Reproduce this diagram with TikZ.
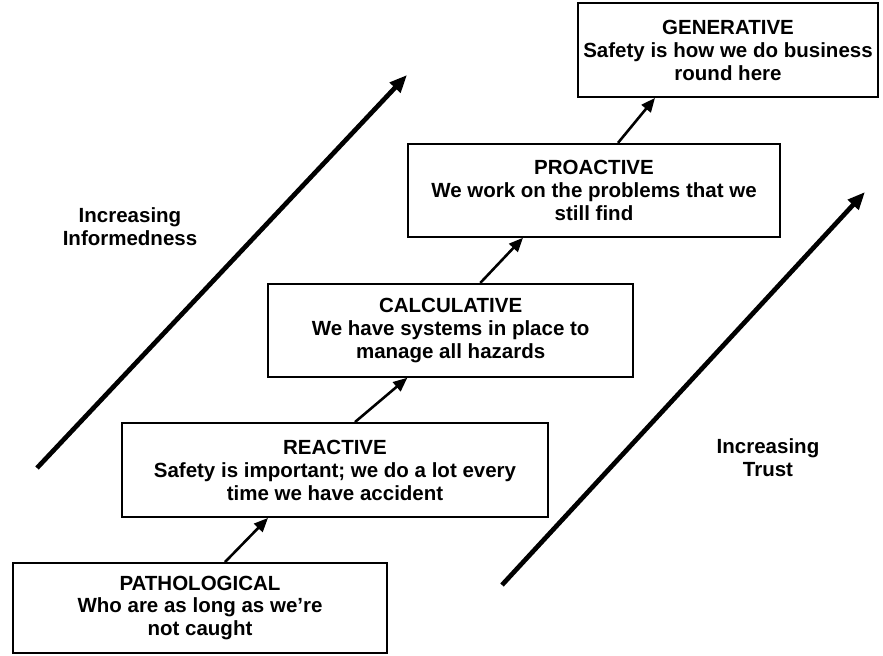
\documentclass[tikz,border=0pt]{standalone}
\usepackage{fontspec}
\setmainfont{Liberation Sans}
\usetikzlibrary{arrows.meta,positioning,calc}
\tikzset{
  stagebox/.style={draw=black, line width=1.6pt, fill=white, align=center,
    inner sep=2pt, font=\bfseries\fontsize{17.5}{19.6}\selectfont},
  stepedge/.style={-{Triangle[length=12pt, width=10pt]}, line width=2.2pt},
  trendarrow/.style={-{Triangle[length=15pt, width=12pt]}, line width=4pt},
  trendlabel/.style={align=center, font=\bfseries\fontsize{17.5}{19.6}\selectfont},
}

\begin{document}
\begin{tikzpicture}

  \useasboundingbox (0,0) rectangle (26.49,19.65);

  % the five stages
  \node[stagebox, minimum width=11.22cm, minimum height=2.7cm] (path) at (6.0,1.41)
    {PATHOLOGICAL\\Who are as long as we're\\not caught};
  \node[stagebox, minimum width=12.78cm, minimum height=2.82cm] (react) at (10.05,5.55)
    {REACTIVE\\Safety is important; we do a lot every\\time we have accident};
  \node[stagebox, minimum width=10.95cm, minimum height=2.79cm] (calc) at (13.52,9.74)
    {CALCULATIVE\\We have systems in place to\\manage all hazards};
  \node[stagebox, minimum width=11.16cm, minimum height=2.79cm] (pro) at (17.82,13.94)
    {PROACTIVE\\We work on the problems that we\\still find};
  \node[stagebox, minimum width=9.0cm, minimum height=2.82cm] (gen) at (21.84,18.15)
    {GENERATIVE\\Safety is how we do business\\round here};

  \draw[stepedge] ($(path.north)+(0.75,0)$) -- ($(react.south)+(-2.01,0)$);
  \draw[stepedge] ($(react.north)+(0.6,0)$) -- ($(calc.south)+(-1.3,0)$);
  \draw[stepedge] ($(calc.north)+(0.89,0)$) -- ($(pro.south)+(-2.13,0)$);
  \draw[stepedge] ($(pro.north)+(0.72,0)$) -- ($(gen.south)+(-2.19,0)$);

  % the two trends
  \coordinate (info0) at (1.11,5.61);
  \coordinate (info1) at (12.21,17.4);
  \coordinate (trust0) at (15.06,2.1);
  \coordinate (trust1) at (25.95,13.89);
  \draw[trendarrow] (info0) -- (info1);
  \draw[trendarrow] (trust0) -- (trust1);

  \node[trendlabel] (infolabel) at (3.9,12.84) {Increasing\\Informedness};
  \node[trendlabel] (trustlabel) at (23.04,5.91) {Increasing\\Trust};

\end{tikzpicture}
\end{document}
